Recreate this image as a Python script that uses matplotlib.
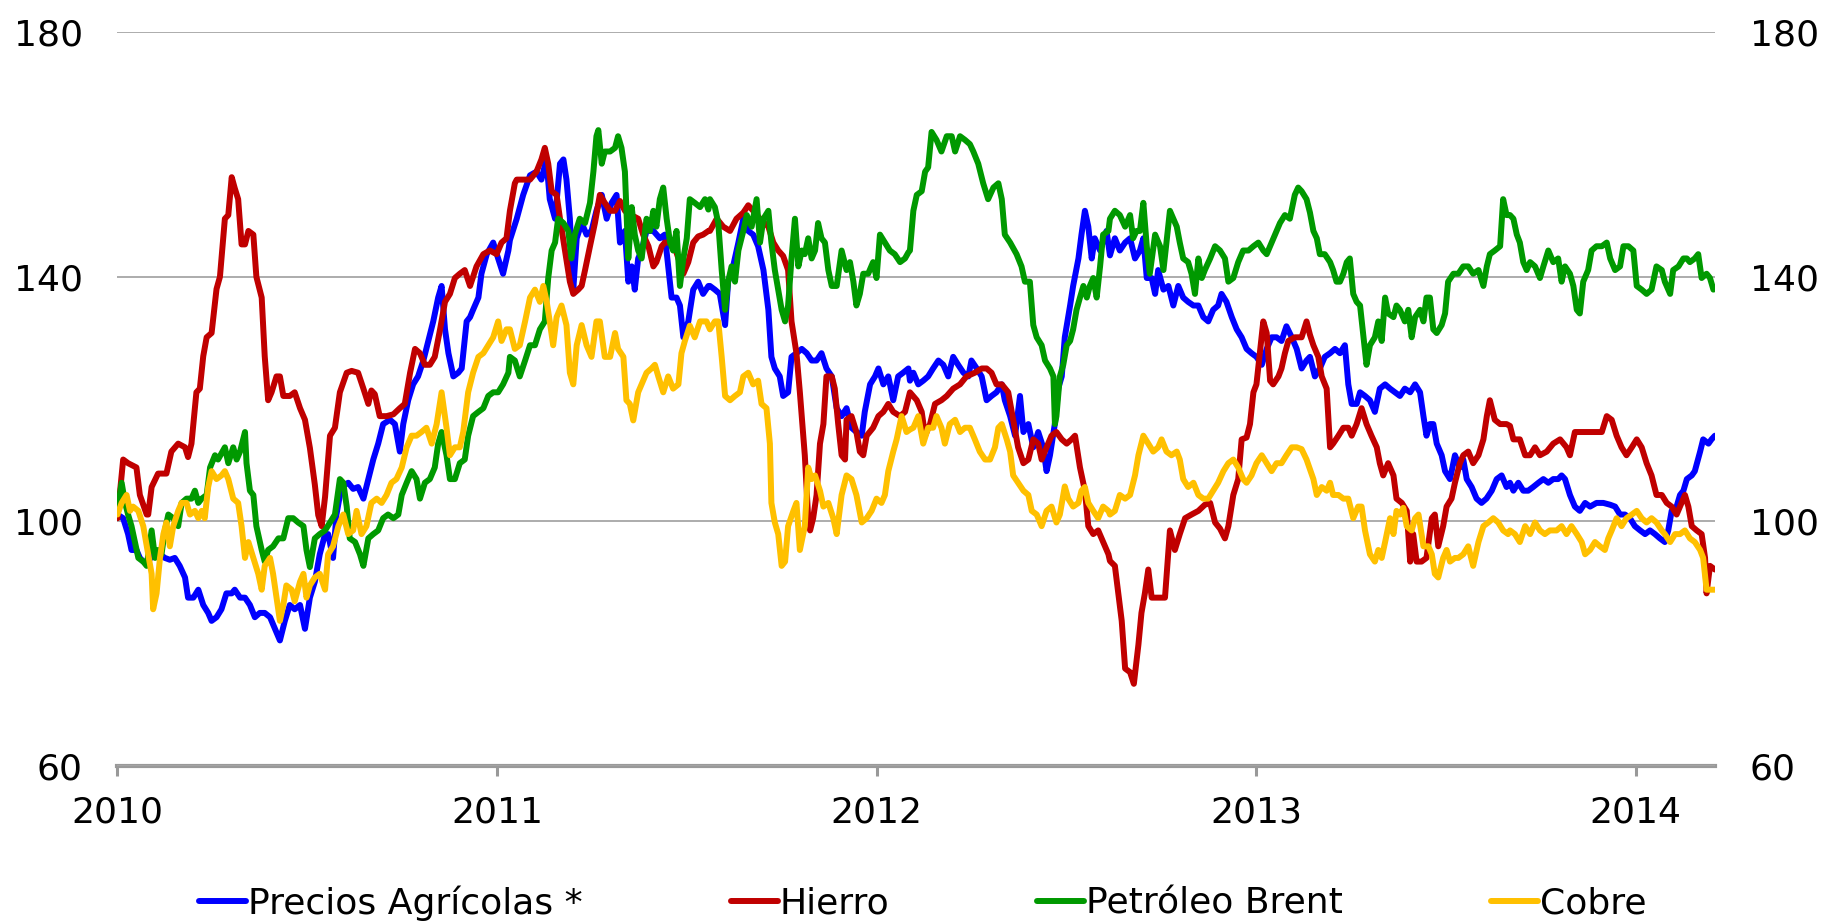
"""Precios de materias primas 2010-2014 (indice, base 100)."""

import matplotlib
matplotlib.use("Agg")
import matplotlib.pyplot as plt

# --- data: fractional year, index value --------------------------------------
agri_x = [2010.000, 2010.015, 2010.028, 2010.037, 2010.050, 2010.059, 2010.068, 2010.081, 2010.094, 2010.112,
          2010.125, 2010.138, 2010.151, 2010.164, 2010.178, 2010.186, 2010.200, 2010.213, 2010.226, 2010.239,
          2010.248, 2010.261, 2010.274, 2010.287, 2010.301, 2010.309, 2010.323, 2010.336, 2010.349, 2010.362,
          2010.375, 2010.388, 2010.402, 2010.415, 2010.428, 2010.441, 2010.454, 2010.467, 2010.481, 2010.494,
          2010.507, 2010.520, 2010.533, 2010.547, 2010.555, 2010.568, 2010.577, 2010.590, 2010.608, 2010.621,
          2010.634, 2010.648, 2010.661, 2010.674, 2010.687, 2010.700, 2010.718, 2010.731, 2010.744, 2010.753,
          2010.766, 2010.779, 2010.792, 2010.806, 2010.819, 2010.832, 2010.845, 2010.854, 2010.863, 2010.872,
          2010.885, 2010.898, 2010.907, 2010.920, 2010.929, 2010.937, 2010.951, 2010.959, 2010.973, 2010.990,
          2011.003, 2011.016, 2011.030, 2011.034, 2011.052, 2011.069, 2011.087, 2011.104, 2011.117, 2011.130,
          2011.139, 2011.153, 2011.166, 2011.175, 2011.183, 2011.192, 2011.201, 2011.210, 2011.223, 2011.236,
          2011.249, 2011.262, 2011.276, 2011.289, 2011.302, 2011.315, 2011.324, 2011.337, 2011.346, 2011.355,
          2011.363, 2011.372, 2011.381, 2011.394, 2011.412, 2011.429, 2011.442, 2011.451, 2011.460, 2011.473,
          2011.482, 2011.491, 2011.504, 2011.517, 2011.530, 2011.543, 2011.557, 2011.561, 2011.574, 2011.587,
          2011.601, 2011.609, 2011.622, 2011.636, 2011.649, 2011.662, 2011.675, 2011.688, 2011.702, 2011.715,
          2011.723, 2011.732, 2011.745, 2011.754, 2011.767, 2011.776, 2011.789, 2011.803, 2011.816, 2011.829,
          2011.842, 2011.855, 2011.868, 2011.882, 2011.895, 2011.908, 2011.921, 2011.934, 2011.947, 2011.961,
          2011.969, 2011.983, 2011.996, 2012.005, 2012.018, 2012.031, 2012.044, 2012.057, 2012.070, 2012.084,
          2012.088, 2012.097, 2012.110, 2012.123, 2012.136, 2012.149, 2012.163, 2012.176, 2012.189, 2012.202,
          2012.215, 2012.229, 2012.242, 2012.250, 2012.264, 2012.277, 2012.290, 2012.303, 2012.316, 2012.330,
          2012.338, 2012.352, 2012.365, 2012.378, 2012.387, 2012.400, 2012.413, 2012.426, 2012.439, 2012.448,
          2012.457, 2012.470, 2012.479, 2012.488, 2012.496, 2012.510, 2012.518, 2012.532, 2012.540, 2012.549,
          2012.558, 2012.567, 2012.575, 2012.589, 2012.606, 2012.615, 2012.628, 2012.641, 2012.655, 2012.668,
          2012.681, 2012.694, 2012.703, 2012.712, 2012.725, 2012.734, 2012.742, 2012.756, 2012.769, 2012.782,
          2012.795, 2012.808, 2012.821, 2012.835, 2012.848, 2012.861, 2012.874, 2012.887, 2012.900, 2012.909,
          2012.922, 2012.936, 2012.949, 2012.962, 2012.975, 2012.988, 2013.001, 2013.015, 2013.028, 2013.041,
          2013.054, 2013.067, 2013.080, 2013.094, 2013.107, 2013.120, 2013.133, 2013.142, 2013.155, 2013.168,
          2013.181, 2013.195, 2013.208, 2013.221, 2013.234, 2013.243, 2013.252, 2013.265, 2013.274, 2013.287,
          2013.300, 2013.313, 2013.326, 2013.340, 2013.353, 2013.366, 2013.379, 2013.392, 2013.406, 2013.419,
          2013.432, 2013.441, 2013.449, 2013.458, 2013.467, 2013.476, 2013.489, 2013.498, 2013.511, 2013.524,
          2013.537, 2013.546, 2013.555, 2013.568, 2013.581, 2013.594, 2013.607, 2013.621, 2013.634, 2013.647,
          2013.660, 2013.669, 2013.678, 2013.691, 2013.704, 2013.717, 2013.730, 2013.744, 2013.757, 2013.770,
          2013.783, 2013.796, 2013.805, 2013.814, 2013.827, 2013.840, 2013.853, 2013.867, 2013.880, 2013.897,
          2013.915, 2013.933, 2013.946, 2013.959, 2013.972, 2013.985, 2013.998, 2014.012, 2014.025, 2014.038,
          2014.051, 2014.064, 2014.077, 2014.086, 2014.095, 2014.108, 2014.117, 2014.126, 2014.135, 2014.148,
          2014.156, 2014.170, 2014.178, 2014.192, 2014.200, 2014.209]
agri_y = [101.1, 100.5, 97.9, 95.3, 95.3, 94.0, 93.4, 93.4, 94.6, 94.6,
          94.0, 93.7, 94.0, 92.7, 90.8, 87.5, 87.5, 88.8, 86.3, 85.0,
          83.7, 84.3, 85.6, 88.2, 88.2, 88.8, 87.5, 87.5, 86.3, 84.3,
          85.0, 85.0, 84.3, 82.4, 80.5, 83.7, 86.3, 85.6, 86.3, 82.4,
          87.5, 90.1, 94.6, 97.9, 97.9, 94.0, 101.1, 105.6, 106.3, 105.3,
          105.6, 103.7, 106.9, 110.1, 112.7, 115.9, 116.6, 115.9, 111.4, 115.9,
          119.8, 122.4, 123.7, 126.3, 129.5, 132.7, 136.6, 138.5, 131.4, 127.5,
          123.7, 124.3, 125.0, 132.7, 133.4, 134.6, 136.6, 140.5, 143.7, 145.6,
          143.0, 140.5, 144.3, 146.0, 149.5, 153.4, 156.6, 157.2, 155.9, 159.2,
          152.7, 149.5, 158.5, 159.2, 155.9, 149.5, 137.9, 146.3, 148.8, 146.9,
          147.5, 150.8, 153.4, 149.5, 152.1, 153.4, 145.6, 147.5, 139.2, 141.7,
          137.9, 143.0, 144.3, 147.5, 147.5, 146.3, 146.9, 141.7, 136.6, 136.6,
          135.3, 130.1, 132.7, 137.9, 139.2, 137.2, 138.5, 138.5, 137.9, 137.2,
          132.1, 139.2, 141.7, 145.6, 149.5, 147.5, 146.9, 145.0, 141.1, 134.6,
          126.9, 125.0, 123.7, 120.5, 121.1, 126.9, 127.5, 128.2, 127.5, 126.3,
          126.3, 127.5, 125.0, 123.7, 118.5, 117.2, 118.5, 115.3, 114.6, 114.0,
          117.9, 122.4, 123.7, 125.0, 122.4, 123.7, 119.8, 123.7, 124.3, 125.0,
          123.0, 124.3, 122.4, 123.0, 123.7, 125.0, 126.3, 125.6, 123.7, 126.9,
          125.6, 124.3, 123.7, 126.3, 125.0, 123.7, 119.8, 120.5, 121.1, 122.4,
          119.8, 117.2, 114.0, 120.5, 114.6, 115.9, 112.1, 114.6, 112.1, 108.2,
          110.8, 116.0, 121.8, 123.7, 130.1, 135.3, 138.5, 143.0, 146.9, 150.8,
          148.2, 143.0, 146.3, 144.3, 147.5, 143.5, 146.3, 144.3, 145.6, 146.3,
          143.0, 144.3, 146.3, 139.8, 139.8, 137.2, 141.1, 137.9, 138.5, 135.3,
          138.5, 136.6, 135.9, 135.3, 135.3, 133.4, 132.7, 134.6, 135.3, 137.2,
          135.9, 133.4, 131.4, 130.1, 128.2, 127.5, 126.9, 125.6, 128.2, 130.1,
          130.1, 129.5, 131.9, 130.1, 128.2, 125.0, 126.3, 126.9, 123.7, 125.0,
          126.9, 127.5, 128.2, 127.5, 128.8, 122.4, 119.2, 119.2, 121.1, 120.5,
          119.8, 117.9, 121.7, 122.4, 121.7, 121.1, 120.5, 121.7, 121.1, 122.4,
          121.1, 117.2, 114.0, 115.9, 115.9, 112.7, 110.8, 108.2, 106.9, 110.8,
          108.8, 110.1, 106.9, 105.6, 103.7, 103.0, 103.7, 105.0, 106.9, 107.5,
          105.6, 106.3, 105.0, 106.3, 105.0, 105.0, 105.6, 106.3, 106.9, 106.3,
          106.9, 106.9, 107.5, 106.9, 104.3, 102.4, 101.7, 103.0, 102.4, 103.0,
          103.0, 102.7, 102.4, 101.1, 101.1, 100.5, 99.2, 98.5, 97.9, 98.5,
          97.9, 97.2, 96.6, 98.5, 101.7, 102.4, 104.3, 105.0, 106.9, 107.5,
          108.2, 111.4, 113.4, 112.7, 113.4, 114.0]

iron_x = [2010.000, 2010.015, 2010.028, 2010.050, 2010.059, 2010.077, 2010.081, 2010.090, 2010.107, 2010.129,
          2010.142, 2010.160, 2010.178, 2010.186, 2010.195, 2010.208, 2010.217, 2010.226, 2010.235, 2010.248,
          2010.261, 2010.270, 2010.283, 2010.292, 2010.301, 2010.309, 2010.318, 2010.327, 2010.336, 2010.345,
          2010.358, 2010.366, 2010.380, 2010.388, 2010.397, 2010.406, 2010.419, 2010.428, 2010.437, 2010.454,
          2010.467, 2010.481, 2010.494, 2010.507, 2010.520, 2010.529, 2010.538, 2010.547, 2010.560, 2010.573,
          2010.586, 2010.604, 2010.617, 2010.634, 2010.648, 2010.661, 2010.669, 2010.678, 2010.691, 2010.709,
          2010.727, 2010.744, 2010.757, 2010.771, 2010.784, 2010.797, 2010.810, 2010.823, 2010.836, 2010.850,
          2010.863, 2010.876, 2010.889, 2010.902, 2010.915, 2010.929, 2010.946, 2010.964, 2010.981, 2010.999,
          2011.012, 2011.025, 2011.034, 2011.047, 2011.052, 2011.087, 2011.104, 2011.117, 2011.126, 2011.135,
          2011.144, 2011.157, 2011.166, 2011.179, 2011.192, 2011.201, 2011.214, 2011.223, 2011.232, 2011.245,
          2011.258, 2011.271, 2011.284, 2011.298, 2011.311, 2011.324, 2011.337, 2011.350, 2011.363, 2011.372,
          2011.385, 2011.399, 2011.412, 2011.420, 2011.434, 2011.442, 2011.456, 2011.464, 2011.478, 2011.491,
          2011.504, 2011.517, 2011.530, 2011.543, 2011.557, 2011.561, 2011.579, 2011.596, 2011.614, 2011.631,
          2011.649, 2011.662, 2011.675, 2011.693, 2011.715, 2011.728, 2011.741, 2011.754, 2011.767, 2011.776,
          2011.789, 2011.798, 2011.811, 2011.820, 2011.825, 2011.833, 2011.842, 2011.851, 2011.860, 2011.868,
          2011.882, 2011.890, 2011.899, 2011.908, 2011.917, 2011.921, 2011.934, 2011.947, 2011.956, 2011.965,
          2011.974, 2011.991, 2012.005, 2012.018, 2012.031, 2012.044, 2012.062, 2012.075, 2012.088, 2012.106,
          2012.119, 2012.128, 2012.141, 2012.154, 2012.171, 2012.185, 2012.202, 2012.220, 2012.237, 2012.259,
          2012.277, 2012.290, 2012.303, 2012.316, 2012.330, 2012.347, 2012.360, 2012.373, 2012.387, 2012.400,
          2012.413, 2012.426, 2012.435, 2012.448, 2012.461, 2012.474, 2012.488, 2012.501, 2012.514, 2012.523,
          2012.536, 2012.549, 2012.558, 2012.571, 2012.584, 2012.597, 2012.611, 2012.615, 2012.628, 2012.637,
          2012.646, 2012.655, 2012.668, 2012.678, 2012.690, 2012.698, 2012.707, 2012.716, 2012.725, 2012.742,
          2012.760, 2012.773, 2012.786, 2012.799, 2012.813, 2012.830, 2012.848, 2012.865, 2012.879, 2012.892,
          2012.905, 2012.918, 2012.927, 2012.940, 2012.953, 2012.962, 2012.975, 2012.984, 2012.993, 2013.001,
          2013.010, 2013.019, 2013.028, 2013.037, 2013.045, 2013.059, 2013.067, 2013.076, 2013.085, 2013.102,
          2013.120, 2013.133, 2013.142, 2013.151, 2013.164, 2013.173, 2013.186, 2013.195, 2013.203, 2013.217,
          2013.230, 2013.243, 2013.252, 2013.265, 2013.278, 2013.291, 2013.304, 2013.318, 2013.326, 2013.335,
          2013.348, 2013.362, 2013.370, 2013.384, 2013.397, 2013.406, 2013.414, 2013.423, 2013.436, 2013.449,
          2013.463, 2013.471, 2013.480, 2013.493, 2013.502, 2013.515, 2013.524, 2013.537, 2013.546, 2013.559,
          2013.572, 2013.586, 2013.599, 2013.608, 2013.616, 2013.629, 2013.643, 2013.660, 2013.669, 2013.678,
          2013.695, 2013.709, 2013.722, 2013.735, 2013.748, 2013.766, 2013.783, 2013.801, 2013.818, 2013.827,
          2013.840, 2013.858, 2013.875, 2013.893, 2013.911, 2013.924, 2013.937, 2013.950, 2013.963, 2013.976,
          2013.990, 2014.003, 2014.016, 2014.029, 2014.042, 2014.055, 2014.069, 2014.082, 2014.095, 2014.108,
          2014.121, 2014.130, 2014.139, 2014.148, 2014.161, 2014.174, 2014.183, 2014.187, 2014.196, 2014.209]
iron_y = [100.5, 110.1, 109.5, 108.8, 104.3, 101.1, 101.1, 105.6, 107.8, 107.8,
          111.4, 112.7, 112.1, 110.5, 112.7, 121.1, 121.7, 127.0, 130.1, 130.8,
          138.0, 140.0, 149.5, 150.1, 156.3, 154.5, 152.7, 145.3, 145.3, 147.5,
          146.9, 140.0, 136.6, 127.0, 119.8, 121.1, 123.7, 123.7, 120.5, 120.5,
          121.1, 118.5, 116.6, 112.0, 106.0, 101.0, 99.2, 104.0, 114.0, 115.3,
          121.1, 124.3, 124.6, 124.3, 121.7, 119.2, 121.4, 120.8, 117.2, 117.2,
          117.5, 118.5, 119.2, 124.3, 128.2, 127.5, 125.6, 125.6, 126.9, 131.4,
          135.9, 137.2, 139.8, 140.5, 141.1, 138.5, 141.7, 143.7, 144.3, 143.7,
          145.6, 146.3, 150.8, 155.3, 155.9, 155.9, 157.2, 159.2, 161.1, 158.5,
          154.0, 153.4, 149.5, 144.3, 139.2, 137.2, 137.9, 138.5, 141.1, 145.0,
          148.8, 153.4, 152.1, 150.8, 150.8, 152.4, 150.8, 150.1, 149.8, 149.5,
          146.9, 145.0, 141.7, 142.4, 145.0, 145.6, 145.6, 145.6, 143.0, 140.5,
          142.4, 145.6, 146.6, 146.9, 147.5, 147.5, 149.5, 148.2, 147.5, 149.5,
          150.5, 151.7, 150.8, 149.5, 148.2, 145.6, 144.3, 143.4, 141.1, 132.7,
          127.5, 121.1, 110.8, 100.5, 98.5, 100.5, 104.3, 112.7, 115.9, 123.7,
          123.7, 121.7, 115.9, 110.8, 110.1, 116.6, 117.2, 114.6, 111.4, 110.8,
          114.0, 115.3, 117.2, 117.9, 119.2, 117.9, 117.2, 117.9, 121.1, 119.8,
          117.9, 114.0, 115.9, 119.2, 119.8, 120.5, 121.7, 122.4, 123.7, 124.3,
          125.0, 125.0, 124.3, 122.4, 122.4, 121.1, 116.6, 112.1, 109.5, 110.1,
          113.4, 112.7, 110.1, 112.1, 114.0, 114.6, 113.4, 112.7, 113.4, 114.0,
          108.8, 105.0, 99.2, 97.9, 98.5, 96.6, 94.6, 93.5, 92.7, 88.2,
          83.7, 75.9, 75.3, 73.4, 79.8, 85.0, 88.2, 92.1, 87.5, 87.5,
          87.5, 98.5, 95.3, 97.9, 100.5, 101.1, 101.7, 102.7, 103.0, 99.8,
          98.8, 97.2, 99.2, 104.3, 106.9, 113.4, 113.7, 115.9, 121.1, 122.4,
          127.5, 132.7, 130.8, 123.0, 122.4, 123.7, 125.0, 127.5, 129.5, 130.1,
          130.1, 132.7, 130.5, 128.8, 126.9, 123.7, 121.7, 112.1, 112.7, 114.0,
          115.3, 115.3, 114.0, 115.9, 118.5, 115.9, 114.0, 112.1, 109.5, 107.5,
          109.5, 107.5, 103.7, 103.0, 101.7, 93.4, 97.9, 93.4, 93.4, 94.0,
          100.5, 101.1, 95.9, 99.2, 102.4, 103.7, 106.3, 109.5, 110.8, 111.4,
          109.5, 110.8, 113.4, 117.2, 119.8, 116.6, 115.9, 115.9, 115.6, 113.4,
          113.4, 110.8, 110.8, 112.1, 110.8, 111.4, 112.7, 113.4, 112.1, 110.8,
          114.6, 114.6, 114.6, 114.6, 114.6, 117.2, 116.6, 114.0, 112.1, 110.8,
          112.1, 113.4, 112.1, 109.5, 107.5, 104.3, 104.3, 103.0, 102.4, 101.1,
          103.0, 104.3, 102.4, 99.2, 98.5, 97.9, 94.0, 88.2, 92.7, 92.1]

brent_x = [2010.000, 2010.011, 2010.020, 2010.028, 2010.037, 2010.046, 2010.055, 2010.068, 2010.077, 2010.090,
           2010.099, 2010.107, 2010.116, 2010.125, 2010.134, 2010.147, 2010.160, 2010.169, 2010.182, 2010.195,
           2010.204, 2010.213, 2010.222, 2010.235, 2010.244, 2010.257, 2010.265, 2010.283, 2010.292, 2010.305,
           2010.314, 2010.323, 2010.336, 2010.340, 2010.349, 2010.358, 2010.366, 2010.380, 2010.388, 2010.397,
           2010.410, 2010.424, 2010.437, 2010.450, 2010.463, 2010.476, 2010.490, 2010.498, 2010.507, 2010.520,
           2010.533, 2010.547, 2010.560, 2010.573, 2010.586, 2010.595, 2010.604, 2010.612, 2010.626, 2010.639,
           2010.648, 2010.661, 2010.674, 2010.687, 2010.700, 2010.713, 2010.727, 2010.740, 2010.749, 2010.762,
           2010.775, 2010.788, 2010.797, 2010.810, 2010.823, 2010.836, 2010.845, 2010.854, 2010.867, 2010.876,
           2010.889, 2010.902, 2010.915, 2010.924, 2010.937, 2010.951, 2010.964, 2010.977, 2010.990, 2011.003,
           2011.016, 2011.030, 2011.034, 2011.047, 2011.060, 2011.074, 2011.087, 2011.100, 2011.113, 2011.126,
           2011.135, 2011.144, 2011.153, 2011.161, 2011.175, 2011.188, 2011.196, 2011.205, 2011.218, 2011.232,
           2011.245, 2011.254, 2011.262, 2011.267, 2011.276, 2011.284, 2011.298, 2011.311, 2011.319, 2011.328,
           2011.337, 2011.346, 2011.355, 2011.363, 2011.372, 2011.381, 2011.394, 2011.403, 2011.412, 2011.420,
           2011.429, 2011.438, 2011.447, 2011.456, 2011.464, 2011.473, 2011.482, 2011.491, 2011.500, 2011.508,
           2011.521, 2011.535, 2011.548, 2011.557, 2011.561, 2011.574, 2011.583, 2011.592, 2011.601, 2011.609,
           2011.618, 2011.627, 2011.636, 2011.649, 2011.658, 2011.671, 2011.684, 2011.693, 2011.702, 2011.715,
           2011.723, 2011.732, 2011.741, 2011.750, 2011.759, 2011.767, 2011.776, 2011.785, 2011.794, 2011.803,
           2011.811, 2011.820, 2011.829, 2011.838, 2011.846, 2011.855, 2011.864, 2011.873, 2011.882, 2011.895,
           2011.908, 2011.921, 2011.930, 2011.939, 2011.947, 2011.956, 2011.965, 2011.978, 2011.991, 2012.000,
           2012.009, 2012.022, 2012.035, 2012.048, 2012.062, 2012.075, 2012.084, 2012.088, 2012.097, 2012.106,
           2012.119, 2012.128, 2012.136, 2012.145, 2012.158, 2012.171, 2012.185, 2012.198, 2012.207, 2012.220,
           2012.233, 2012.246, 2012.255, 2012.268, 2012.281, 2012.294, 2012.308, 2012.321, 2012.330, 2012.338,
           2012.352, 2012.369, 2012.382, 2012.391, 2012.404, 2012.413, 2012.422, 2012.435, 2012.444, 2012.457,
           2012.466, 2012.470, 2012.474, 2012.483, 2012.492, 2012.501, 2012.510, 2012.518, 2012.527, 2012.536,
           2012.545, 2012.554, 2012.562, 2012.571, 2012.580, 2012.589, 2012.597, 2012.611, 2012.615, 2012.628,
           2012.641, 2012.655, 2012.668, 2012.676, 2012.685, 2012.694, 2012.703, 2012.712, 2012.720, 2012.734,
           2012.747, 2012.756, 2012.764, 2012.773, 2012.782, 2012.791, 2012.799, 2012.808, 2012.821, 2012.830,
           2012.839, 2012.848, 2012.857, 2012.865, 2012.879, 2012.892, 2012.905, 2012.918, 2012.927, 2012.940,
           2012.953, 2012.966, 2012.980, 2012.993, 2013.006, 2013.019, 2013.028, 2013.037, 2013.050, 2013.063,
           2013.076, 2013.089, 2013.102, 2013.111, 2013.120, 2013.133, 2013.142, 2013.151, 2013.160, 2013.168,
           2013.181, 2013.195, 2013.203, 2013.212, 2013.221, 2013.230, 2013.239, 2013.247, 2013.256, 2013.265,
           2013.274, 2013.283, 2013.291, 2013.300, 2013.313, 2013.322, 2013.331, 2013.340, 2013.348, 2013.362,
           2013.370, 2013.379, 2013.392, 2013.401, 2013.410, 2013.419, 2013.432, 2013.441, 2013.449, 2013.458,
           2013.467, 2013.476, 2013.489, 2013.498, 2013.506, 2013.520, 2013.533, 2013.546, 2013.559, 2013.572,
           2013.586, 2013.599, 2013.608, 2013.616, 2013.629, 2013.643, 2013.651, 2013.660, 2013.669, 2013.678,
           2013.687, 2013.695, 2013.704, 2013.713, 2013.722, 2013.735, 2013.748, 2013.757, 2013.770, 2013.783,
           2013.796, 2013.805, 2013.814, 2013.827, 2013.836, 2013.845, 2013.853, 2013.862, 2013.875, 2013.884,
           2013.897, 2013.911, 2013.924, 2013.933, 2013.946, 2013.959, 2013.968, 2013.981, 2013.994, 2014.003,
           2014.016, 2014.029, 2014.042, 2014.055, 2014.069, 2014.077, 2014.091, 2014.099, 2014.113, 2014.126,
           2014.135, 2014.143, 2014.156, 2014.165, 2014.174, 2014.187, 2014.196, 2014.205]
brent_y = [101.7, 106.3, 103.0, 101.1, 99.2, 96.6, 94.0, 93.4, 92.7, 98.5,
           94.0, 95.3, 94.6, 98.5, 101.1, 100.5, 99.2, 103.0, 103.7, 103.7,
           105.0, 103.0, 103.7, 104.3, 108.8, 110.8, 110.1, 112.1, 109.5, 112.1,
           110.1, 111.4, 114.6, 109.5, 105.0, 104.3, 99.2, 95.3, 93.4, 95.3,
           95.9, 97.2, 97.2, 100.5, 100.5, 99.8, 99.2, 95.3, 92.5, 97.2,
           97.9, 98.5, 99.8, 101.1, 106.9, 106.3, 102.4, 97.2, 96.6, 94.6,
           92.7, 97.2, 97.9, 98.5, 100.5, 101.1, 100.5, 101.1, 104.3, 106.3,
           108.2, 106.9, 103.7, 106.3, 106.9, 108.8, 112.7, 114.6, 110.8, 106.9,
           106.9, 109.5, 110.1, 114.0, 117.2, 117.9, 118.5, 120.5, 121.1, 121.1,
           122.4, 124.3, 126.9, 126.3, 123.7, 126.3, 128.8, 128.8, 131.4, 132.7,
           139.8, 144.3, 145.6, 149.5, 148.8, 147.5, 143.0, 146.9, 149.5, 148.8,
           152.1, 157.2, 163.0, 164.0, 158.5, 160.5, 160.5, 161.1, 163.0, 161.1,
           157.2, 143.0, 151.4, 146.9, 144.3, 143.0, 149.5, 147.5, 150.8, 148.2,
           152.7, 154.6, 149.5, 145.6, 144.3, 147.5, 138.5, 143.0, 146.3, 152.7,
           152.1, 151.4, 152.7, 151.0, 152.7, 151.4, 148.8, 141.1, 134.6, 139.2,
           141.7, 139.2, 144.3, 147.5, 150.1, 148.2, 152.7, 145.6, 149.5, 150.8,
           145.6, 141.1, 137.9, 134.6, 132.7, 135.3, 143.0, 149.5, 141.7, 144.3,
           143.7, 146.3, 143.0, 144.3, 148.8, 146.3, 145.6, 141.1, 138.5, 138.5,
           144.3, 141.1, 142.4, 139.2, 135.3, 137.2, 140.5, 140.5, 142.4, 139.8,
           146.9, 145.6, 144.3, 143.7, 142.4, 143.0, 144.0, 144.3, 150.8, 153.4,
           154.0, 157.2, 157.9, 163.7, 162.4, 160.5, 163.0, 163.0, 160.5, 163.0,
           162.4, 161.7, 160.5, 158.5, 155.3, 152.7, 154.6, 155.3, 152.7, 146.9,
           145.6, 143.7, 141.7, 139.2, 139.2, 132.1, 130.1, 128.8, 126.3, 125.0,
           123.7, 115.9, 117.2, 123.7, 125.6, 128.8, 129.5, 131.4, 134.6, 136.6,
           138.5, 136.6, 138.5, 139.8, 136.6, 141.7, 146.9, 147.5, 149.5, 150.8,
           150.1, 148.2, 150.1, 146.3, 147.5, 147.5, 152.1, 145.0, 140.5, 146.9,
           145.0, 141.1, 145.6, 150.8, 149.5, 148.2, 145.6, 143.0, 142.4, 140.5,
           137.2, 143.0, 139.8, 141.1, 143.0, 145.0, 144.3, 143.0, 139.2, 139.8,
           142.4, 144.3, 144.3, 145.0, 145.6, 144.3, 143.7, 145.0, 146.9, 148.8,
           150.1, 149.5, 153.4, 154.6, 154.0, 152.7, 150.5, 147.5, 146.3, 143.7,
           143.7, 142.4, 141.1, 139.2, 139.2, 140.5, 142.4, 143.0, 137.2, 135.9,
           135.3, 130.1, 125.6, 128.8, 130.1, 132.7, 129.5, 136.6, 134.0, 133.4,
           135.3, 134.6, 132.7, 134.6, 130.1, 133.4, 134.6, 132.7, 136.6, 136.6,
           131.4, 130.8, 132.1, 134.0, 139.2, 140.5, 140.5, 141.7, 141.7, 140.5,
           141.1, 138.5, 141.7, 143.7, 144.3, 145.0, 152.7, 150.1, 150.1, 149.5,
           146.9, 145.6, 142.4, 141.1, 142.4, 141.7, 139.8, 141.7, 144.3, 142.4,
           143.0, 139.2, 141.7, 140.5, 138.5, 134.6, 134.0, 139.2, 141.1, 144.3,
           145.0, 145.0, 145.6, 143.0, 141.1, 141.7, 145.0, 145.0, 144.3, 138.5,
           137.9, 137.2, 137.9, 141.7, 141.1, 139.2, 137.2, 141.1, 141.7, 143.0,
           143.0, 142.4, 143.0, 143.7, 139.8, 140.5, 139.8, 137.9]

copper_x = [2010.000, 2010.011, 2010.024, 2010.033, 2010.041, 2010.055, 2010.068, 2010.081, 2010.090, 2010.094,
            2010.103, 2010.112, 2010.121, 2010.129, 2010.138, 2010.147, 2010.160, 2010.169, 2010.182, 2010.191,
            2010.204, 2010.213, 2010.222, 2010.230, 2010.239, 2010.248, 2010.261, 2010.274, 2010.283, 2010.292,
            2010.305, 2010.318, 2010.327, 2010.336, 2010.345, 2010.358, 2010.371, 2010.380, 2010.388, 2010.402,
            2010.410, 2010.419, 2010.428, 2010.437, 2010.445, 2010.459, 2010.467, 2010.481, 2010.490, 2010.498,
            2010.507, 2010.520, 2010.533, 2010.547, 2010.555, 2010.568, 2010.582, 2010.595, 2010.608, 2010.621,
            2010.630, 2010.643, 2010.656, 2010.669, 2010.683, 2010.696, 2010.709, 2010.722, 2010.735, 2010.749,
            2010.762, 2010.775, 2010.788, 2010.801, 2010.814, 2010.828, 2010.841, 2010.854, 2010.867, 2010.876,
            2010.889, 2010.902, 2010.911, 2010.924, 2010.937, 2010.951, 2010.964, 2010.977, 2010.990, 2011.003,
            2011.012, 2011.025, 2011.034, 2011.047, 2011.060, 2011.074, 2011.087, 2011.100, 2011.113, 2011.122,
            2011.131, 2011.139, 2011.148, 2011.157, 2011.170, 2011.183, 2011.192, 2011.201, 2011.210, 2011.223,
            2011.236, 2011.249, 2011.262, 2011.271, 2011.284, 2011.298, 2011.311, 2011.319, 2011.333, 2011.341,
            2011.350, 2011.359, 2011.372, 2011.381, 2011.394, 2011.407, 2011.416, 2011.425, 2011.438, 2011.451,
            2011.464, 2011.478, 2011.486, 2011.495, 2011.508, 2011.521, 2011.535, 2011.552, 2011.561, 2011.574,
            2011.583, 2011.592, 2011.601, 2011.614, 2011.627, 2011.640, 2011.649, 2011.662, 2011.675, 2011.688,
            2011.697, 2011.710, 2011.719, 2011.723, 2011.732, 2011.741, 2011.750, 2011.759, 2011.767, 2011.781,
            2011.789, 2011.798, 2011.811, 2011.820, 2011.829, 2011.838, 2011.851, 2011.860, 2011.873, 2011.886,
            2011.895, 2011.908, 2011.921, 2011.934, 2011.947, 2011.961, 2011.974, 2011.987, 2012.000, 2012.013,
            2012.022, 2012.031, 2012.044, 2012.053, 2012.066, 2012.079, 2012.088, 2012.097, 2012.110, 2012.123,
            2012.136, 2012.149, 2012.158, 2012.171, 2012.180, 2012.193, 2012.207, 2012.220, 2012.233, 2012.246,
            2012.259, 2012.272, 2012.286, 2012.299, 2012.312, 2012.321, 2012.330, 2012.343, 2012.352, 2012.360,
            2012.373, 2012.387, 2012.400, 2012.409, 2012.422, 2012.435, 2012.448, 2012.461, 2012.474, 2012.483,
            2012.496, 2012.505, 2012.518, 2012.532, 2012.540, 2012.549, 2012.558, 2012.571, 2012.584, 2012.597,
            2012.611, 2012.615, 2012.628, 2012.641, 2012.655, 2012.668, 2012.681, 2012.690, 2012.703, 2012.716,
            2012.729, 2012.742, 2012.751, 2012.764, 2012.777, 2012.791, 2012.799, 2012.808, 2012.821, 2012.835,
            2012.848, 2012.861, 2012.874, 2012.887, 2012.900, 2012.914, 2012.927, 2012.940, 2012.953, 2012.966,
            2012.975, 2012.988, 2013.001, 2013.015, 2013.028, 2013.041, 2013.054, 2013.067, 2013.080, 2013.094,
            2013.107, 2013.120, 2013.133, 2013.142, 2013.151, 2013.160, 2013.173, 2013.186, 2013.195, 2013.203,
            2013.217, 2013.230, 2013.243, 2013.256, 2013.269, 2013.278, 2013.287, 2013.300, 2013.313, 2013.322,
            2013.331, 2013.340, 2013.353, 2013.362, 2013.370, 2013.379, 2013.388, 2013.397, 2013.410, 2013.419,
            2013.428, 2013.441, 2013.454, 2013.463, 2013.471, 2013.480, 2013.493, 2013.502, 2013.511, 2013.524,
            2013.533, 2013.546, 2013.559, 2013.572, 2013.586, 2013.599, 2013.612, 2013.625, 2013.638, 2013.651,
            2013.664, 2013.669, 2013.682, 2013.695, 2013.709, 2013.722, 2013.735, 2013.748, 2013.761, 2013.774,
            2013.792, 2013.805, 2013.818, 2013.831, 2013.845, 2013.858, 2013.867, 2013.880, 2013.893, 2013.906,
            2013.919, 2013.928, 2013.937, 2013.950, 2013.963, 2013.976, 2013.990, 2014.003, 2014.016, 2014.029,
            2014.042, 2014.055, 2014.069, 2014.077, 2014.091, 2014.104, 2014.117, 2014.130, 2014.143, 2014.156,
            2014.170, 2014.178, 2014.187, 2014.196, 2014.209]
copper_y = [101.1, 103.0, 104.3, 101.7, 102.4, 101.7, 99.2, 94.6, 91.4, 85.6,
            88.2, 94.0, 97.9, 99.8, 95.9, 99.2, 101.7, 103.0, 103.0, 101.1,
            101.7, 100.5, 101.7, 100.5, 105.6, 108.2, 106.9, 107.5, 108.2, 106.9,
            103.7, 103.0, 99.2, 94.0, 96.6, 94.0, 91.4, 88.8, 92.7, 94.0,
            91.4, 87.5, 83.7, 86.3, 89.5, 88.8, 86.9, 90.1, 91.4, 87.5,
            89.5, 90.8, 91.4, 88.8, 94.6, 95.9, 99.2, 101.1, 97.9, 98.5,
            101.7, 97.9, 99.2, 103.0, 103.7, 103.0, 104.3, 106.3, 106.9, 108.8,
            112.1, 114.0, 114.0, 114.6, 115.3, 112.7, 115.9, 121.1, 115.3, 110.8,
            112.1, 112.1, 114.6, 121.1, 124.3, 126.9, 127.5, 128.8, 130.1, 132.7,
            129.5, 131.4, 131.4, 128.2, 128.8, 132.7, 136.6, 137.9, 135.9, 138.5,
            135.9, 132.7, 128.8, 133.4, 135.3, 132.1, 124.3, 122.4, 128.8, 132.1,
            128.8, 126.9, 132.7, 132.7, 126.9, 126.9, 130.8, 128.2, 126.9, 119.8,
            119.2, 116.5, 121.1, 122.4, 124.3, 125.0, 125.6, 123.7, 121.1, 123.7,
            121.7, 122.4, 127.5, 129.5, 132.0, 130.1, 132.7, 132.7, 131.4, 132.7,
            132.7, 126.9, 120.5, 119.8, 120.5, 121.1, 123.7, 124.3, 122.4, 123.0,
            119.2, 118.5, 112.7, 103.0, 99.8, 97.9, 92.7, 93.4, 99.2, 101.7,
            103.0, 95.3, 99.2, 108.8, 106.9, 107.5, 105.0, 102.4, 103.0, 100.5,
            97.9, 104.3, 107.5, 106.9, 104.3, 99.8, 100.5, 101.7, 103.7, 103.0,
            104.3, 108.2, 111.4, 113.4, 117.2, 114.6, 115.0, 115.3, 117.2, 112.7,
            115.3, 115.3, 117.2, 115.3, 112.7, 115.9, 116.6, 114.6, 115.3, 115.3,
            113.4, 111.4, 110.1, 110.1, 112.1, 115.3, 115.9, 113.4, 111.4, 107.5,
            106.3, 105.0, 104.3, 101.7, 101.1, 99.2, 101.7, 102.4, 99.8, 101.1,
            105.7, 103.7, 102.4, 103.0, 105.0, 105.6, 103.0, 101.7, 100.5, 102.4,
            101.7, 101.1, 101.7, 104.3, 103.7, 104.3, 107.5, 110.8, 114.0, 112.7,
            111.4, 112.1, 113.4, 111.4, 110.8, 111.4, 110.1, 106.9, 105.6, 106.3,
            104.3, 103.7, 103.7, 105.0, 106.3, 108.2, 109.5, 110.1, 108.8, 106.9,
            106.3, 107.5, 109.5, 110.8, 109.5, 108.2, 109.5, 109.5, 110.8, 112.1,
            112.1, 111.8, 110.1, 108.5, 106.9, 104.3, 105.6, 105.0, 106.3, 104.3,
            104.3, 103.7, 103.7, 100.5, 102.4, 102.4, 98.5, 94.6, 93.4, 95.3,
            94.0, 96.6, 100.5, 97.9, 101.7, 101.1, 102.2, 99.2, 98.5, 100.5,
            101.1, 95.9, 95.9, 94.6, 91.4, 90.8, 94.0, 95.3, 93.4, 94.0,
            94.0, 94.6, 95.9, 92.7, 96.6, 99.2, 99.8, 100.5, 99.8, 98.5,
            97.9, 98.5, 97.9, 96.6, 99.2, 97.9, 99.8, 98.5, 97.9, 98.5,
            98.5, 99.2, 97.9, 99.2, 97.9, 96.6, 94.6, 95.3, 96.6, 95.9,
            95.3, 97.2, 98.5, 100.5, 99.2, 100.5, 101.1, 101.7, 100.5, 99.8,
            100.5, 99.8, 98.5, 97.9, 96.6, 97.9, 97.9, 98.5, 97.2, 96.6,
            95.3, 94.0, 88.8, 88.8, 88.8]

series_names = ["Precios Agrícolas *", "Hierro", "Petróleo Brent", "Cobre"]
series_colors = ["#0000FF", "#C00000", "#009900", "#FFC000"]
year_ticks = [2010, 2011, 2012, 2013, 2014]
value_ticks = [60, 100, 140, 180]

plt.rcParams["font.family"] = ["DejaVu Sans"]

fig = plt.figure(figsize=(18.24, 9.21), dpi=100)
ax = fig.add_axes([0.0644, 0.1686, 0.8758, 0.7963])

series = [(agri_x, agri_y), (iron_x, iron_y), (brent_x, brent_y), (copper_x, copper_y)]
for (xs, ys), name, color in zip(series, series_names, series_colors):
    ax.plot(xs, ys, color=color, lw=4.3, label=name,
            solid_joinstyle="round", solid_capstyle="round")

ax.set_xlim(2010, 2014.209)
ax.set_ylim(60, 180)
ax.set_xticks(year_ticks)
ax.set_xticklabels([str(y) for y in year_ticks])
ax.set_yticks(value_ticks)
ax.yaxis.grid(True, color="#a6a6a6", lw=1.3)
ax.set_axisbelow(True)

for side in ["top", "left", "right"]:
    ax.spines[side].set_visible(False)
ax.spines["bottom"].set_color("#999999")
ax.spines["bottom"].set_linewidth(3)
ax.spines["bottom"].set_zorder(0.5)

ax.tick_params(axis="y", length=0, labelsize=26, pad=25, labelleft=True, labelright=True)
ax.tick_params(axis="x", length=7.5, width=2.2, color="#999999", labelsize=26, pad=14)

fig.legend(loc="center", bbox_to_anchor=(0.506, 0.0195), ncol=4, frameon=False,
           fontsize=26, handlelength=1.3, handletextpad=0.05, columnspacing=4.1)

fig.savefig("out.png", dpi=100)
